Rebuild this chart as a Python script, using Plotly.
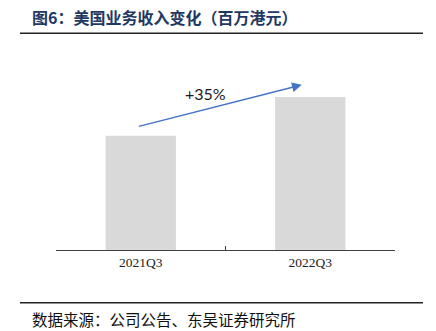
import plotly.graph_objects as go

categories = ["2021Q3", "2022Q3"]
revenue = [100, 134]          # relative bar heights (no axis shown)
growth_label = "+35%"
title_text = "图6：美国业务收入变化（百万港元）"
source_text = "数据来源：公司公告、东吴证券研究所"

W, H = 436, 331
ml, mr, mt, mb = 56, 41, 40, 81
plot_w = W - ml - mr
plot_h = H - mt - mb
ymax = 184

def px_x(px):
    return (px - ml) / plot_w

def px_y(py):
    return (H - mb - py) / plot_h

fig = go.Figure()
fig.add_trace(go.Bar(
    x=categories, y=revenue,
    marker=dict(color="#D9D9D9", line=dict(width=0)),
    width=0.415,
    hoverinfo="skip",
))

# growth arrow from above bar 1 to above bar 2
fig.add_annotation(
    x=0.95, y=revenue[1] * 1.08, xref="x", yref="y",
    ax=-0.02, ay=revenue[0] * 1.08, axref="x", ayref="y",
    showarrow=True, arrowhead=2, arrowsize=1.3, arrowwidth=1.5,
    arrowcolor="#4472C4", text="",
)
fig.add_annotation(
    x=0.38, y=(revenue[0] + revenue[1]) / 2 * 1.175, xref="x", yref="y",
    text=growth_label, showarrow=False,
    font=dict(family="Lato, Open Sans, sans-serif", size=16, color="#1a1a1a"),
)

# title and source
fig.add_annotation(
    x=px_x(30), y=px_y(17), xref="paper", yref="paper",
    xanchor="left", yanchor="middle", showarrow=False,
    text="<b>" + title_text + "</b>",
    font=dict(family="Noto Sans CJK SC", size=16, color="#1F3864"),
)
fig.add_annotation(
    x=px_x(30), y=px_y(319), xref="paper", yref="paper",
    xanchor="left", yanchor="middle", showarrow=False,
    text=source_text,
    font=dict(family="Noto Sans CJK SC", size=15.5, color="#111111"),
)

# rules
for py in (33.3, 302.7):
    fig.add_shape(type="line", xref="paper", yref="paper",
                  x0=px_x(20), x1=px_x(423), y0=px_y(py), y1=px_y(py),
                  line=dict(color="#222222", width=1.4))

fig.update_layout(
    width=W, height=H,
    margin=dict(l=ml, r=mr, t=mt, b=mb),
    paper_bgcolor="white", plot_bgcolor="white",
    showlegend=False,
    xaxis=dict(
        type="category", showline=True, linecolor="#404040", linewidth=1,
        ticks="inside", ticklen=4, tickcolor="#404040", tickson="boundaries",
        showgrid=False, zeroline=False,
        tickfont=dict(family="Liberation Serif, DejaVu Serif, serif", size=13.5, color="#222222"),
        range=[-0.5, 1.5], fixedrange=True,
    ),
    yaxis=dict(visible=False, range=[0, ymax], showgrid=False, zeroline=False, fixedrange=True),
)

fig.write_html("out.html")
